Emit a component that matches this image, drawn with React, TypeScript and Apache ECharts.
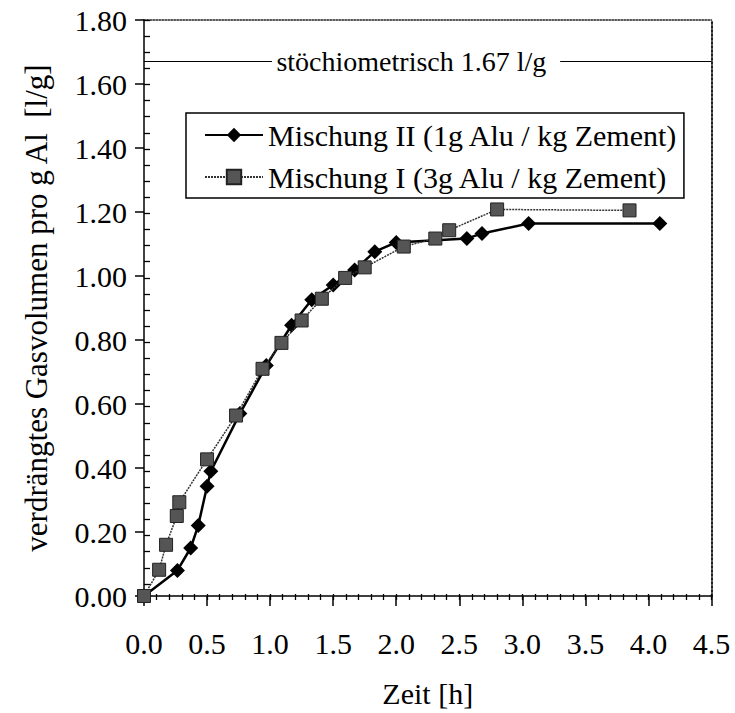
import React, { useEffect, useRef } from "react";
import * as echarts from "echarts";

// ---- data ----
const SERIES_II_NAME = "Mischung II (1g Alu / kg Zement)";
const SERIES_I_NAME = "Mischung I (3g Alu / kg Zement)";

const timeII = [0, 0.265, 0.37, 0.43, 0.5, 0.53, 0.76, 0.97, 1.17, 1.33, 1.5, 1.67, 1.83, 2.0, 2.56, 2.68, 3.05, 4.09];
const volII = [0, 0.08, 0.15, 0.22, 0.343, 0.39, 0.57, 0.72, 0.846, 0.926, 0.972, 1.019, 1.076, 1.105, 1.117, 1.133, 1.164, 1.164];

const timeI = [0, 0.12, 0.175, 0.26, 0.28, 0.5, 0.73, 0.94, 1.09, 1.25, 1.41, 1.595, 1.75, 2.06, 2.31, 2.42, 2.8, 3.85];
const volI = [0, 0.082, 0.16, 0.25, 0.293, 0.427, 0.564, 0.71, 0.791, 0.861, 0.929, 0.994, 1.027, 1.092, 1.117, 1.143, 1.208, 1.205];

const STOICH_VALUE = 1.67;
const STOICH_LABEL = "stöchiometrisch 1.67 l/g";
const STOICH_GAP = [1.015, 3.3]; // line is interrupted for the label between these times
const STOICH_LABEL_AT = 2.12;

const X_MIN = 0, X_MAX = 4.5, X_STEP = 0.5, X_MINOR = 0.1;
const Y_MIN = 0, Y_MAX = 1.8, Y_STEP = 0.2, Y_MINOR = 0.05;
const X_NAME = "Zeit [h]";
const Y_NAME = "verdrängtes Gasvolumen pro g Al  [l/g]";

const FONT = "Liberation Serif";

export default function App() {
  const ref = useRef<HTMLDivElement>(null);

  useEffect(() => {
    if (!ref.current) return;
    const chart = echarts.init(ref.current, undefined, { renderer: "svg" });

    const gridBox = { left: 144, right: 23.5, top: 20, bottom: 113 };

    const option: any = {
      animation: false,
      backgroundColor: "#fff",
      textStyle: { fontFamily: FONT, color: "#000" },
      grid: [
        { ...gridBox },
        { ...gridBox },
      ],
      legend: {
        left: 186,
        top: 113,
        orient: "vertical",
        padding: [7, 6, 6, 18],
        itemGap: 12,
        itemWidth: 58,
        itemHeight: 18,
        borderColor: "#000",
        borderWidth: 1.5,
        backgroundColor: "#fff",
        textStyle: { fontFamily: FONT, fontSize: 30, color: "#000" },
        data: [SERIES_II_NAME, SERIES_I_NAME],
      },
      xAxis: [
        {
          type: "value",
          gridIndex: 0,
          position: "bottom",
          min: X_MIN,
          max: X_MAX,
          interval: X_STEP,
          name: X_NAME,
          nameLocation: "middle",
          nameGap: 82,
          nameTextStyle: { fontFamily: FONT, fontSize: 30, color: "#000" },
          axisLine: { onZero: false, lineStyle: { color: "#000", width: 1.5 } },
          axisTick: { show: true, inside: false, length: 10, lineStyle: { color: "#000", width: 1.5 } },
          axisLabel: {
            fontFamily: FONT,
            fontSize: 30,
            color: "#000",
            margin: 32,
            formatter: (v: number) => v.toFixed(1),
          },
          splitLine: { show: false },
        },
        {
          type: "value",
          gridIndex: 0,
          position: "top",
          min: X_MIN,
          max: X_MAX,
          axisLine: { onZero: false, lineStyle: { color: "#222", width: 1.5, type: "dotted" } },
          axisTick: { show: false },
          axisLabel: { show: false },
          splitLine: { show: false },
        },
        {
          type: "value",
          gridIndex: 1,
          position: "bottom",
          min: X_MIN,
          max: X_MAX,
          interval: X_MINOR,
          axisLine: { show: false, onZero: false },
          axisTick: { show: true, inside: true, length: 6, lineStyle: { color: "#000", width: 1.3 } },
          axisLabel: { show: false },
          splitLine: { show: false },
        },
      ],
      yAxis: [
        {
          type: "value",
          gridIndex: 0,
          position: "left",
          min: Y_MIN,
          max: Y_MAX,
          interval: Y_STEP,
          name: Y_NAME,
          nameLocation: "middle",
          nameGap: 92,
          nameTextStyle: { fontFamily: FONT, fontSize: 31, color: "#000" },
          axisLine: { onZero: false, lineStyle: { color: "#000", width: 1.5 } },
          axisTick: { show: true, inside: false, length: 9, lineStyle: { color: "#000", width: 1.5 } },
          axisLabel: {
            fontFamily: FONT,
            fontSize: 30,
            color: "#000",
            margin: 17,
            formatter: (v: number) => v.toFixed(2),
          },
          splitLine: { show: false },
        },
        {
          type: "value",
          gridIndex: 0,
          position: "right",
          min: Y_MIN,
          max: Y_MAX,
          axisLine: { onZero: false, lineStyle: { color: "#222", width: 2, type: "dotted" } },
          axisTick: { show: false },
          axisLabel: { show: false },
          splitLine: { show: false },
        },
        {
          type: "value",
          gridIndex: 1,
          position: "left",
          min: Y_MIN,
          max: Y_MAX,
          interval: Y_MINOR,
          axisLine: { show: false, onZero: false },
          axisTick: { show: true, inside: true, length: 6, lineStyle: { color: "#000", width: 1.3 } },
          axisLabel: { show: false },
          splitLine: { show: false },
        },
      ],
      series: [
        {
          name: SERIES_II_NAME,
          type: "line",
          xAxisIndex: 0,
          yAxisIndex: 0,
          data: timeII.map((t, i) => [t, volII[i]]),
          symbol: "diamond",
          symbolSize: 15,
          lineStyle: { color: "#000", width: 2.5 },
          itemStyle: { color: "#000" },
          z: 3,
          markLine: {
            silent: true,
            symbol: "none",
            lineStyle: { color: "#000", width: 1.2, type: "solid" },
            label: { show: false },
            data: [
              [{ coord: [X_MIN, STOICH_VALUE] }, { coord: [STOICH_GAP[0], STOICH_VALUE] }],
              [{ coord: [STOICH_GAP[1], STOICH_VALUE] }, { coord: [X_MAX, STOICH_VALUE] }],
            ],
          },
          markPoint: {
            silent: true,
            symbol: "circle",
            symbolSize: 0,
            label: {
              show: true,
              position: "inside",
              formatter: STOICH_LABEL,
              fontFamily: FONT,
              fontSize: 28,
              color: "#000",
            },
            data: [{ coord: [STOICH_LABEL_AT, STOICH_VALUE] }],
          },
        },
        {
          name: SERIES_I_NAME,
          type: "line",
          xAxisIndex: 0,
          yAxisIndex: 0,
          data: timeI.map((t, i) => [t, volI[i]]),
          symbol: "rect",
          symbolSize: 13,
          lineStyle: { color: "#333", width: 1.5, type: [2, 1] },
          itemStyle: { color: "#555", borderColor: "#222", borderWidth: 1 },
          z: 4,
        },
      ],
    };

    chart.setOption(option);
    return () => chart.dispose();
  }, []);

  return (
    <div
      ref={ref}
      style={{ position: "fixed", left: 0, top: 0, width: 735, height: 713, background: "#fff" }}
    />
  );
}
